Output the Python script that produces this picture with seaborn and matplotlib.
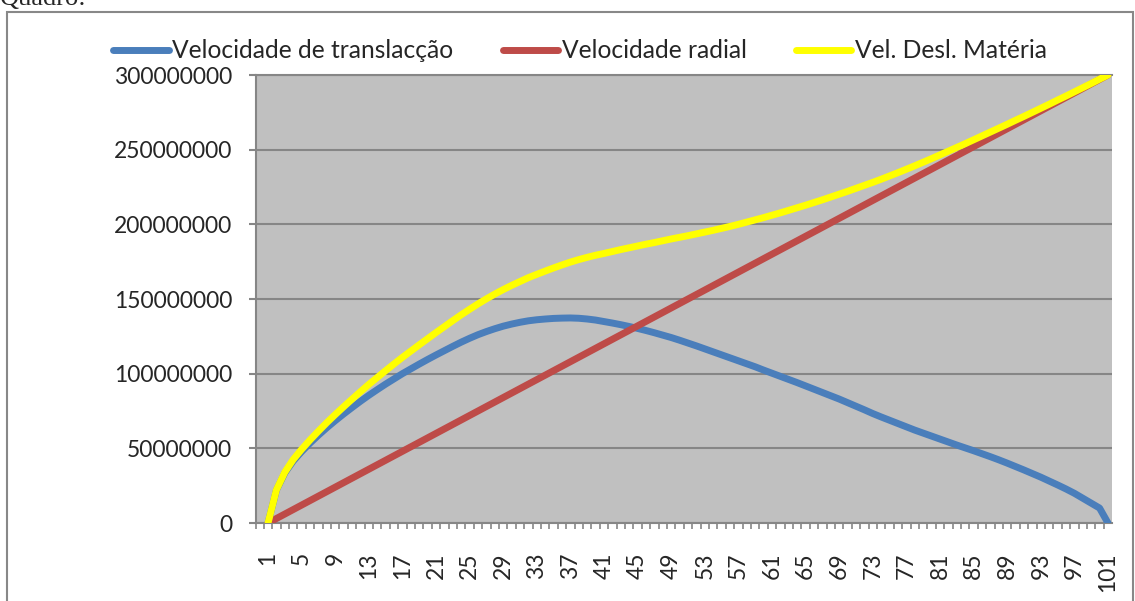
import numpy as np
import pandas as pd
import matplotlib
import matplotlib.pyplot as plt
import seaborn as sns
from matplotlib.patches import Rectangle
from matplotlib.ticker import FuncFormatter, FixedLocator
matplotlib.use("Agg")

# categorias do eixo x (1..101) e velocidades em milhões de m/s
categorias = list(range(1, 102))

vel_translacao = [
    0.0, 22.0, 33.5, 41.5, 47.8, 53.5, 58.8, 63.8, 68.5, 73.0,
    77.3, 81.5, 85.5, 89.3, 93.0, 96.5, 100.0, 103.2, 106.4, 109.5,
    112.5, 115.4, 118.3, 121.1, 123.7, 126.1, 128.2, 130.1, 131.8, 133.2,
    134.4, 135.4, 136.1, 136.6, 137.0, 137.2, 137.3, 137.1, 136.6, 135.9,
    134.9, 133.9, 132.8, 131.6, 130.3, 128.9, 127.4, 125.8, 124.2, 122.4,
    120.5, 118.6, 116.6, 114.6, 112.6, 110.6, 108.6, 106.6, 104.6, 102.4,
    100.3, 98.2, 96.1, 94.0, 91.8, 89.6, 87.4, 85.2, 83.0, 80.6,
    78.2, 75.8, 73.3, 71.0, 68.8, 66.6, 64.4, 62.2, 60.2, 58.2,
    56.2, 54.2, 52.2, 50.3, 48.4, 46.4, 44.4, 42.3, 40.1, 37.8,
    35.5, 33.1, 30.7, 28.1, 25.5, 22.8, 19.9, 16.6, 13.3, 10.0,
    0.0,
]

vel_radial = [
    0, 3, 6, 9, 12, 15, 18, 21, 24, 27,
    30, 33, 36, 39, 42, 45, 48, 51, 54, 57,
    60, 63, 66, 69, 72, 75, 78, 81, 84, 87,
    90, 93, 96, 99, 102, 105, 108, 111, 114, 117,
    120, 123, 126, 129, 132, 135, 138, 141, 144, 147,
    150, 153, 156, 159, 162, 165, 168, 171, 174, 177,
    180, 183, 186, 189, 192, 195, 198, 201, 204, 207,
    210, 213, 216, 219, 222, 225, 228, 231, 234, 237,
    240, 243, 246, 249, 252, 255, 258, 261, 264, 267,
    270, 273, 276, 279, 282, 285, 288, 291, 294, 297,
    300,
]

vel_materia = [
    0.0, 22.2, 34.0, 42.5, 49.3, 55.6, 61.5, 67.2, 72.6, 77.8,
    82.9, 87.9, 92.8, 97.4, 102.0, 106.5, 110.9, 115.1, 119.3, 123.4,
    127.5, 131.5, 135.5, 139.4, 143.1, 146.7, 150.1, 153.3, 156.3, 159.1,
    161.7, 164.3, 166.5, 168.7, 170.8, 172.8, 174.7, 176.4, 177.9, 179.3,
    180.5, 181.8, 183.1, 184.3, 185.5, 186.7, 187.8, 189.0, 190.2, 191.3,
    192.4, 193.6, 194.8, 196.0, 197.3, 198.6, 200.0, 201.5, 203.0, 204.5,
    206.1, 207.7, 209.4, 211.1, 212.8, 214.6, 216.4, 218.3, 220.2, 222.1,
    224.1, 226.1, 228.1, 230.2, 232.4, 234.6, 236.9, 239.2, 241.6, 244.0,
    246.5, 249.0, 251.5, 254.0, 256.6, 259.2, 261.8, 264.4, 267.0, 269.7,
    272.3, 275.0, 277.7, 280.4, 283.2, 285.9, 288.7, 291.5, 294.3, 297.2,
    300.0,
]

series = [
    ("Velocidade de translacção", vel_translacao, "#4A7EBB"),
    ("Velocidade radial", vel_radial, "#BE4B48"),
    ("Vel. Desl. Matéria", vel_materia, "#FFFF00"),
]

sns.set_style("ticks")
plt.rcParams["font.family"] = ["Lato", "DejaVu Sans"]
grey = "#868686"
fsize = 16.5

W, H = 1135, 601
fig = plt.figure(figsize=(W / 100, H / 100), dpi=100)
ax = fig.add_axes([256 / W, 1 - 523 / H, (1112 - 256) / W, (523 - 75) / H])
ax.set_facecolor("#C0C0C0")

for i, (name, vals, color) in enumerate(series):
    sns.lineplot(x=categorias, y=np.array(vals) * 1e6, ax=ax, color=color,
                 lw=5, label=name, legend=False, zorder=3 + i,
                 solid_capstyle="round", solid_joinstyle="round")

ax.set_xlim(-0.43, 101.48)
ax.set_ylim(0, 300000000)
ax.set_xlabel("")
ax.set_ylabel("")

ax.set_yticks(np.arange(0, 300000001, 50000000))
ax.yaxis.set_major_formatter(FuncFormatter(lambda v, p: f"{int(v)}"))
ax.yaxis.grid(True, color=grey, lw=1.5)
ax.set_axisbelow(True)

ax.set_xticks(categorias[::4])
ax.set_xticklabels([str(c) for c in categorias[::4]], rotation=90)
ax.xaxis.set_minor_locator(FixedLocator([-0.43] + [k + 0.5 for k in range(102)]))

ax.tick_params(axis="y", length=5, width=1.5, color=grey, pad=12, labelsize=fsize)
ax.tick_params(axis="x", which="major", length=0, pad=21, labelsize=fsize)
ax.tick_params(axis="x", which="minor", length=4.5, width=1.2, color=grey)

for side in ["left", "bottom", "top"]:
    ax.spines[side].set_color(grey)
    ax.spines[side].set_linewidth(1.5)
ax.spines["right"].set_visible(False)

handles = ax.get_lines()[:3]
fig.legend(handles, [s[0] for s in series], loc="center",
           bbox_to_anchor=(580 / W, 1 - 51 / H), ncol=3, frameon=False,
           handlelength=2.25, handletextpad=0.15, columnspacing=2.0,
           fontsize=17.7)

# moldura exterior e texto cortado no topo
fig.patches.append(Rectangle((6.5 / W, -0.05), (1133 - 6.5) / W, 1.05 - 12.5 / H,
                             transform=fig.transFigure, fill=False,
                             edgecolor="#888888", lw=1.5, figure=fig))
fig.text(0, 1 - 5 / H, "Quadro:", family="Liberation Serif", fontsize=19,
         va="baseline", ha="left")

fig.savefig("out.png", dpi=100)
